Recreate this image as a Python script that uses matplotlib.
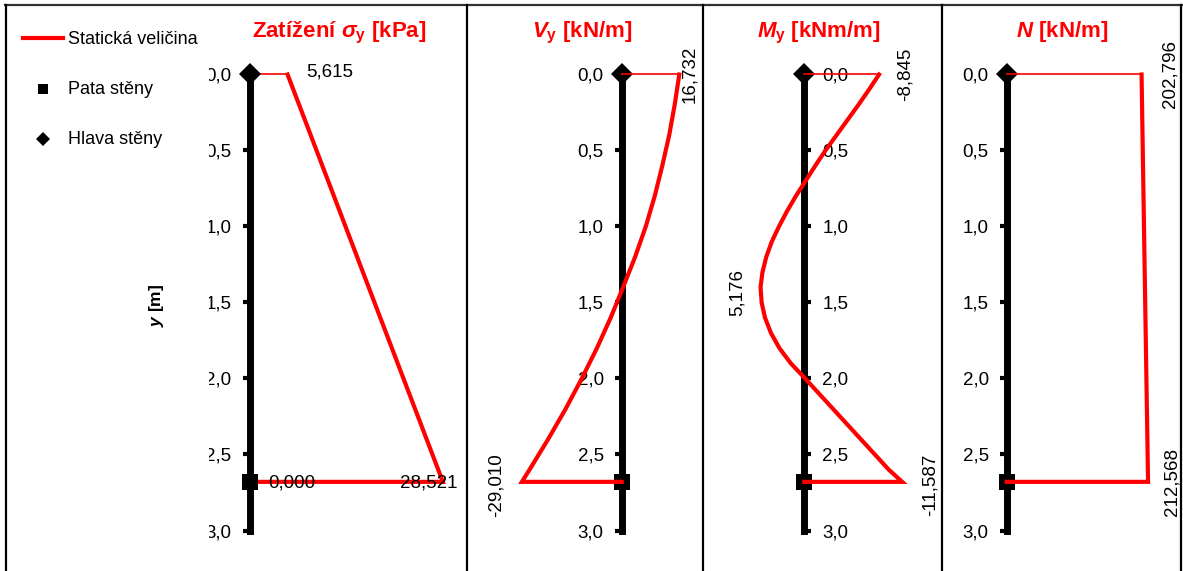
import numpy as np
import matplotlib
matplotlib.use('Agg')
import matplotlib.pyplot as plt
from matplotlib.patches import Rectangle
from matplotlib.lines import Line2D
from matplotlib.ticker import FuncFormatter

plt.rcParams['font.family'] = ['Liberation Sans', 'DejaVu Sans']
plt.rcParams['mathtext.fontset'] = 'custom'
plt.rcParams['mathtext.rm'] = 'Liberation Sans:bold'
plt.rcParams['mathtext.it'] = 'Liberation Sans:bold:italic'
plt.rcParams['mathtext.bf'] = 'Liberation Sans:bold'

# --- data ---
paticka = 2.68          # hloubka paty steny [m]
y_ticks = [0.0, 0.5, 1.0, 1.5, 2.0, 2.5, 3.0]

sigma_y = [0.0, paticka]
sigma = [5.615, 28.521]

v_y = [0.0, 0.2, 0.4, 0.6, 0.8, 1.0, 1.2, 1.4, 1.6, 1.8, 2.0, 2.2, 2.4, 2.6, 2.68]
v = [16.732, 15.4, 13.8, 11.8, 9.6, 7.0, 3.9, 0.4, -3.2, -7.2, -11.6, -16.3, -21.4, -26.8, -29.010]

m_y = [0.0, 0.1, 0.2, 0.3, 0.4, 0.5, 0.6, 0.7, 0.8, 0.9, 1.0, 1.1, 1.2, 1.3, 1.4,
       1.5, 1.6, 1.7, 1.8, 1.9, 2.0, 2.1, 2.2, 2.3, 2.4, 2.5, 2.6, 2.68]
m = [-8.845, -7.65, -6.40, -5.10, -3.80, -2.50, -1.30, -0.15, 1.00, 2.05, 3.00, 3.85,
     4.50, 4.95, 5.176, 5.05, 4.65, 3.95, 2.95, 1.60, -0.10, -1.75, -3.40, -5.05,
     -6.70, -8.35, -10.0, -11.587]

n_y = [0.0, paticka]
n = [202.796, 212.568]

W, H = 1183, 571
fig = plt.figure(figsize=(W / 100, H / 100), dpi=100)

def fx(px):
    return px / W

def fy(py):
    return 1 - py / H

# pixel layout: y=0 at 74.5 px, 152 px per metre
y0_px, y_scale = 74.5, 152.0
ylim = ((H - y0_px) / y_scale, -y0_px / y_scale)

fmt = FuncFormatter(lambda val, pos: f"{val:.1f}".replace('.', ','))
RED = '#ff0000'
FS = 13.5

def panel(left, right, wall, scale, xs, ys, flip=False, marks_top=False):
    ax = fig.add_axes([fx(left), 0, fx(right - left), 1])
    ax.patch.set_alpha(0)
    lo = (left - wall) / scale
    hi = (right - wall) / scale
    if flip:
        ax.set_xlim(-lo, -hi)
    else:
        ax.set_xlim(lo, hi)
    ax.set_ylim(*ylim)
    side = 'right' if flip else 'left'
    for s in ax.spines:
        ax.spines[s].set_visible(s == side)
    ax.spines[side].set_position(('data', 0))
    ax.spines[side].set_bounds(0, 3)
    ax.spines[side].set_linewidth(5)
    ax.set_xticks([])
    ax.set_yticks(y_ticks)
    ax.yaxis.set_major_formatter(fmt)
    if flip:
        ax.yaxis.tick_right()
    ax.tick_params(axis='y', direction='out', length=5, width=3, pad=8,
                   labelsize=FS, color='black')
    mz = 4 if marks_top else 2.7
    ax.plot([0], [0], marker='D', ms=11, color='black', mew=0, zorder=mz, clip_on=False)
    ax.plot([0], [paticka], marker='s', ms=12, color='black', mew=0, zorder=mz, clip_on=False)
    ax.plot([0, xs[0]], [0, 0], color=RED, lw=1.2, zorder=3, clip_on=False)
    ax.plot(list(xs) + [0], list(ys) + [ys[-1]], color=RED, lw=3, zorder=3,
            clip_on=False, solid_joinstyle='miter')
    return ax

def label(ax, text, x, y, dx, dy, rot=0, ha='center'):
    ax.annotate(text, xy=(x, y), xytext=(dx * 0.72, -dy * 0.72), textcoords='offset points',
                ha=ha, va='center', rotation=rot, fontsize=FS, zorder=5)

ax1 = panel(228, 467, 249.5, 6.78, sigma, sigma_y, marks_top=True)
label(ax1, '5,615', sigma[0], 0, 19, -2, ha='left')
label(ax1, '0,000', 0, paticka, 18.5, 1, ha='left')
label(ax1, '28,521', sigma[-1], paticka, 15, 1, ha='right')

ax2 = panel(467, 703, 621.7, 3.44, v, v_y)
label(ax2, '16,732', v[0], 0, 10, 0, rot=90)
label(ax2, '-29,010', v[-1], paticka, -25.5, 3, rot=90)

ax3 = panel(703, 942, 804.3, 8.45, m, m_y, flip=True)
label(ax3, '-8,845', m[0], 0, 26.5, 0, rot=90)
label(ax3, '-11,587', m[-1], paticka, 28.3, 3, rot=90)
label(ax3, '5,176', max(m), m_y[int(np.argmax(m))], -23.5, 5.5, rot=90)

ax4 = panel(942, 1181, 1006.7, 0.665, n, n_y)
label(ax4, '202,796', n[0], 0, 28.5, 0, rot=90)
label(ax4, '212,568', n[-1], paticka, 23.5, 0, rot=90)

# titles
titles = [(339, r'Zatížení $\sigma_{\mathrm{y}}$ [kPa]'),
          (582, r'$V_{\mathrm{y}}$ [kN/m]'),
          (819, r'$M_{\mathrm{y}}$ [kNm/m]'),
          (1062, r'$N$ [kN/m]')]
for px, t in titles:
    fig.text(fx(px), fy(37), t, color=RED, fontsize=16, fontweight='bold',
             ha='center', va='baseline', zorder=7)

# legend area covering the first panel's clipped tick labels
fig.patches.append(Rectangle((fx(6), 0), fx(209 - 6), fy(6), transform=fig.transFigure,
                             facecolor='white', edgecolor='none', zorder=5))
fig.lines.append(Line2D([fx(23), fx(63)], [fy(38), fy(38)], color=RED, lw=3,
                        transform=fig.transFigure, zorder=6))
fig.lines.append(Line2D([fx(43)], [fy(89)], marker='s', ms=7.5, mew=0, color='black',
                        transform=fig.transFigure, zorder=6))
fig.lines.append(Line2D([fx(43)], [fy(139)], marker='D', ms=7, mew=0, color='black',
                        transform=fig.transFigure, zorder=6))
for py, t in [(39, 'Statická veličina'), (90, 'Pata stěny'), (140, 'Hlava stěny')]:
    fig.text(fx(68), fy(py), t, fontsize=13, ha='left', va='center', zorder=7)
fig.text(fx(156), fy(305), r'$y$ [m]', rotation=90, fontsize=12.5, fontweight='bold',
         ha='center', va='center', zorder=7)

# frame and panel separators
fig.lines.append(Line2D([fx(5), fx(1183)], [fy(4.5), fy(4.5)], color='#303030', lw=1.6,
                        transform=fig.transFigure, zorder=8))
for px in [5.5, 467, 703, 942, 1181]:
    fig.lines.append(Line2D([fx(px), fx(px)], [fy(4.5), 0], color='black', lw=1.6,
                            transform=fig.transFigure, zorder=8))

fig.savefig('out.png', dpi=100)
